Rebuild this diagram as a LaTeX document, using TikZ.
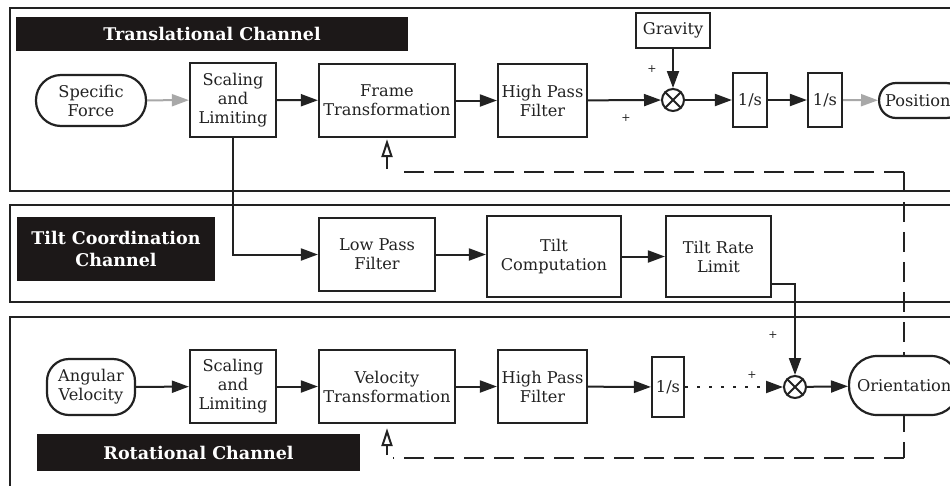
\documentclass[tikz,border=0pt]{standalone}
\usepackage{fontspec}
\setmainfont{DejaVu Serif}
\usetikzlibrary{arrows.meta,calc}
\definecolor{ink}{HTML}{222222}
\definecolor{bar}{HTML}{1C1818}
\definecolor{lightarrow}{HTML}{A8A8A8}
\begin{document}
\begin{tikzpicture}[x=1pt,y=-1pt,
  every node/.style={font=\fontsize{16.2}{19}\selectfont, text=ink},
  blk/.style={draw=ink, line width=2.2pt, fill=white, align=center, inner sep=0pt},
  term/.style={blk, rounded corners=#1},
  titlebar/.style={fill=bar, text=white, font=\fontsize{17.5}{22}\selectfont\bfseries, inner sep=0pt, align=center},
  chan/.style={draw=ink, line width=2.2pt},
  arr/.style={-{Triangle[length=17pt,width=12pt]}, line width=2pt, draw=ink},
  garr/.style={arr, draw=lightarrow},
  fb/.style={draw=ink, line width=2.2pt, dash pattern=on 20pt off 10pt},
  openarr/.style={draw=ink, line width=2pt, -{Triangle[open,length=18pt,width=11pt]}},
  dotline/.style={dash pattern=on 3pt off 9pt},
  sumc/.style={circle, draw=ink, line width=2pt, fill=white, minimum size=22pt, inner sep=0pt},
  plus/.style={font=\fontsize{11}{12}\selectfont, inner sep=0pt}
]
\path[use as bounding box] (0,0) rectangle (950,485);
\fill[white] (0,0) rectangle (950,485);

% channel frames
\draw[chan] (10,8) rectangle (970,191);
\draw[chan] (10,205) rectangle (970,302);
\draw[chan] (10,317) rectangle (970,500);

\coordinate (fbt) at (904,172);
\coordinate (fbb) at (904,458);
\coordinate (fbtl) at (394,172);
\coordinate (fbbl) at (393,458);

% title bars
\node[titlebar, minimum width=392pt, minimum height=34pt] (t1) at (212,34) {Translational Channel};
\node[titlebar, minimum width=198pt, minimum height=64pt] (t2) at (116,249) {Tilt Coordination\\Channel};
\node[titlebar, minimum width=323pt, minimum height=37pt] (t3) at (198.5,452.5) {Rotational Channel};

% translational channel
\node[term=25pt, minimum width=110pt, minimum height=51pt] (sf) at (91,100.5) {Specific\\Force};
\node[blk, minimum width=86pt, minimum height=74pt] (sl1) at (233,100) {Scaling\\and\\Limiting};
\node[blk, minimum width=136pt, minimum height=73pt] (ft) at (387,100.5) {Frame\\Transformation};
\node[blk, minimum width=89pt, minimum height=73pt] (hp1) at (542.5,100.5) {High Pass\\Filter};
\node[blk, minimum width=74pt, minimum height=35pt] (grav) at (673,30.5) {Gravity};
\node[sumc] (s1) at (673,100) {};
\draw[line width=2pt, draw=ink] (s1.north west) -- (s1.south east) (s1.north east) -- (s1.south west);
\node[blk, minimum width=34pt, minimum height=54pt] (i1) at (750,100) {1/s};
\node[blk, minimum width=34pt, minimum height=54pt] (i2) at (825,100) {1/s};
\node[term=17pt, minimum height=35pt, text width=84pt, inner xsep=0pt, align=left, anchor=west] (pos) at (878,100.5) {\hspace*{6pt}Position};

% tilt coordination channel
\node[blk, minimum width=116pt, minimum height=73pt] (lp) at (377,254.5) {Low Pass\\Filter};
\node[blk, minimum width=134pt, minimum height=81pt] (tc) at (554,256.5) {Tilt\\Computation};
\node[blk, minimum width=105pt, minimum height=81pt] (trl) at (718.5,256.5) {Tilt Rate\\Limit};

% rotational channel
\node[term=22pt, minimum width=88pt, minimum height=56pt] (ang) at (91,387) {Angular\\Velocity};
\node[blk, minimum width=86pt, minimum height=73pt] (sl2) at (233,386.5) {Scaling\\and\\Limiting};
\node[blk, minimum width=136pt, minimum height=73pt] (vt) at (387,386.5) {Velocity\\Transformation};
\node[blk, minimum width=89pt, minimum height=73pt] (hp2) at (542.5,386.5) {High Pass\\Filter};
\node[blk, minimum width=32pt, minimum height=60pt] (i3) at (668,387) {1/s};
\node[sumc] (s2) at (795,387) {};
\draw[line width=2pt, draw=ink] (s2.north west) -- (s2.south east) (s2.north east) -- (s2.south west);

% feedback dashed
\draw[fb] (fbt) -- (fbb);
\draw[fb] (fbt) -- (fbtl);
\draw[fb] (fbb) -- (fbbl);
\draw[openarr] ($(ft.south)+(0,31)$) -- ($(ft.south)+(0,1)$);
\draw[openarr] ($(vt.south)+(0,31)$) -- ($(vt.south)+(0,4)$);
\node[term=28pt, minimum height=59pt, text width=110pt, inner xsep=0pt, align=left, anchor=west] (ori) at (848,385.5) {\hspace*{8pt}Orientation};

% connectors translational
\draw[garr] (sf) -- (sl1);
\draw[arr] (sl1) -- (ft);
\draw[arr] (ft) -- (hp1);
\draw[arr] (hp1) -- (s1);
\draw[arr] (grav) -- (s1);
\draw[arr] (s1) -- (i1);
\draw[arr] (i1) -- (i2);
\draw[garr] (i2) -- (pos);

% connectors tilt
\draw[arr] (sl1.south) |- (lp.west);
\draw[arr] (lp.east) -- (lp.east -| tc.west);
\draw[arr] (tc) -- (trl);
\draw[arr] ($(trl.south east)+(0,-14)$) -| (s2.north);

% connectors rotational
\draw[arr] (ang) -- (sl2);
\draw[arr] (sl2) -- (vt);
\draw[arr] (vt) -- (hp2);
\draw[arr] (hp2) -- (i3);
\draw[arr, dotline] (i3) -- (s2);
\draw[arr] (s2) -- (ori);

% plus signs
\node[plus] (p1) at (652,69) {+};
\node[plus] (p2) at (626,118) {+};
\node[plus] (p3) at (773,335) {+};
\node[plus] (p4) at (752,375) {+};
\end{tikzpicture}
\end{document}
